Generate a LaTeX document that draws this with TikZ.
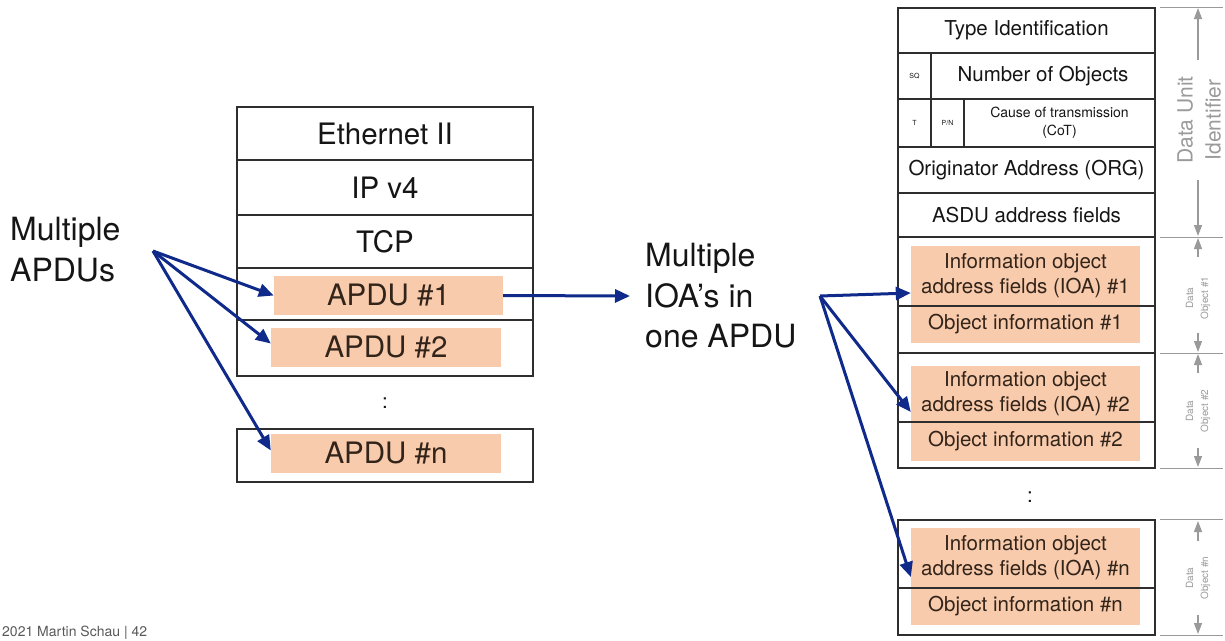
\documentclass[tikz,border=0pt]{standalone}
\usepackage{fontspec}
\setmainfont{TeX Gyre Heros}
\usetikzlibrary{arrows.meta}
\definecolor{apduorange}{HTML}{F8CBAD}
\definecolor{navyblue}{HTML}{0F2A8A}
\definecolor{txtcol}{HTML}{151515}
\definecolor{otxtcol}{HTML}{33241A}
\definecolor{annocol}{HTML}{9A9A9A}
\definecolor{cellline}{HTML}{2E2E2E}
\begin{document}
\begin{tikzpicture}[x=1pt,y=-1pt,
  cell/.style={draw=cellline, line width=1.5pt, inner sep=0pt, text=txtcol, align=center},
  orng/.style={fill=apduorange, draw=none, inner sep=0pt, text=otxtcol, align=center},
  bigtxt/.style={font=\fontsize{29.5}{34}\selectfont},
  labeltxt/.style={font=\fontsize{32}{40.5}\selectfont, text=txtcol, align=left, inner sep=0pt},
  medtxt/.style={font=\fontsize{20.5}{25}\selectfont},
  smalltxt/.style={font=\fontsize{14}{18}\selectfont},
  tinytxt/.style={font=\fontsize{7}{8}\selectfont},
  link/.style={draw=navyblue, line width=3pt, -{Triangle[length=15pt,width=13pt]}},
  annoline/.style={draw=annocol, line width=1.2pt},
  annarrow/.style={draw=annocol, line width=1.2pt, -{Triangle[length=11pt,width=8pt]}},
  annotxt/.style={text=annocol, align=center, inner sep=0pt, rotate=90}
]
\useasboundingbox (0,0) rectangle (1225,640);

% ---------- left stack ----------
\node[cell, bigtxt, minimum width=296pt, minimum height=53pt] (eth) at (385,133.5) {Ethernet II};
\node[cell, bigtxt, minimum width=296pt, minimum height=55pt] (ip) at (385,187.5) {IP v4};
\node[cell, bigtxt, minimum width=296pt, minimum height=53pt] (tcp) at (385,241.5) {TCP};
\node[cell, minimum width=296pt, minimum height=52pt] (row1) at (385,294) {};
\node[cell, minimum width=296pt, minimum height=56pt] (row2) at (385,348) {};
\node[text=txtcol, medtxt, inner sep=0pt] (ldots) at (385,403) {:};
\node[cell, minimum width=296pt, minimum height=53pt] (rown) at (385,455.5) {};
\node[orng, bigtxt, minimum width=229pt, minimum height=39pt] (apdu1) at (388.5,295.5) {APDU \#1};
\node[orng, bigtxt, minimum width=230pt, minimum height=39pt] (apdu2) at (386,347.5) {APDU \#2};
\node[orng, bigtxt, minimum width=230pt, minimum height=39pt] (apdun) at (386,453.5) {APDU \#n};

% ---------- labels ----------
\node[labeltxt, anchor=north west] (mapdu) at (10,217) {Multiple\\APDUs};
\node[labeltxt, anchor=north west] (mioa) at (645,243) {Multiple\\IOA’s in\\one APDU};

% ---------- right stack ----------
\node[cell, medtxt, minimum width=257pt, minimum height=45pt] (typeid) at (1026.5,30.5) {Type Identification};
\node[cell, tinytxt, minimum width=33pt, minimum height=46pt] (sq) at (914.5,76) {SQ};
\node[cell, medtxt, minimum width=224pt, minimum height=46pt] (numobj) at (1043,76) {Number of Objects};
\node[cell, tinytxt, minimum width=33pt, minimum height=48pt] (tbit) at (914.5,123) {T};
\node[cell, tinytxt, minimum width=33pt, minimum height=48pt] (pn) at (947.5,123) {P/N};
\node[cell, smalltxt, minimum width=191pt, minimum height=48pt] (cot) at (1059.5,123) {Cause of transmission\\(CoT)};
\node[cell, medtxt, minimum width=257pt, minimum height=46pt] (orig) at (1026.5,170) {Originator Address (ORG)};
\node[cell, medtxt, minimum width=257pt, minimum height=44pt] (asdu) at (1026.5,215) {ASDU address fields};

\node[orng, medtxt, minimum width=229pt, minimum height=60pt] (ioa1) at (1025.5,276) {Information object\\address fields (IOA) \#1};
\node[orng, medtxt, minimum width=229pt, minimum height=37pt] (obj1) at (1025.5,324.5) {Object information \#1};
\node[cell, minimum width=257pt, minimum height=69pt] (do1a) at (1026.5,271.5) {};
\node[cell, minimum width=257pt, minimum height=47pt] (do1b) at (1026.5,329.5) {};

\node[orng, medtxt, minimum width=229pt, minimum height=56pt] (ioa2) at (1025.5,394) {Information object\\address fields (IOA) \#2};
\node[orng, medtxt, minimum width=229pt, minimum height=39pt] (obj2) at (1025.5,441.5) {Object information \#2};
\node[cell, minimum width=257pt, minimum height=69pt] (do2a) at (1026.5,387.5) {};
\node[cell, minimum width=257pt, minimum height=46pt] (do2b) at (1026.5,445) {};

\node[text=txtcol, medtxt, inner sep=0pt] (rdots) at (1030,497) {:};

\node[orng, medtxt, minimum width=229pt, minimum height=60pt] (ioan) at (1025.5,558) {Information object\\address fields (IOA) \#n};
\node[orng, medtxt, minimum width=229pt, minimum height=37pt] (objn) at (1025.5,606.5) {Object information \#n};
\node[cell, minimum width=257pt, minimum height=68pt] (dona) at (1026.5,554) {};
\node[cell, minimum width=257pt, minimum height=47pt] (donb) at (1026.5,611.5) {};

% ---------- annotations ----------
\foreach \n/\a in {typeid/north, asdu/south, do1b/south, do2b/south, dona/north, donb/south}{
  \draw[annoline] ([xshift=4pt]\n.\a\space east) -- ++(63,0);
}
\node[annotxt, font=\fontsize{21}{28}\selectfont] (dui) at (1199,120) {Data Unit\\Identifier};
\coordinate (d0) at (1198,8);
\coordinate (d0a) at (1198,60);
\coordinate (d1) at (1198,236);
\coordinate (d1a) at (1198,180);
\draw[annarrow] (d0a) -- (d0);
\draw[annarrow] (d1a) -- (d1);

\node[annotxt, font=\fontsize{10}{15}\selectfont] (dob1) at (1198,298) {Data\\Object \#1};
\coordinate (e0) at (1198,238);
\coordinate (e0a) at (1198,257);
\coordinate (e1) at (1198,352);
\coordinate (e1a) at (1198,333);
\draw[annarrow] (e0a) -- (e0);
\draw[annarrow] (e1a) -- (e1);

\node[annotxt, font=\fontsize{10}{15}\selectfont] (dob2) at (1198,411) {Data\\Object \#2};
\coordinate (f0) at (1198,354);
\coordinate (f0a) at (1198,373);
\coordinate (f1) at (1198,467);
\coordinate (f1a) at (1198,448);
\draw[annarrow] (f0a) -- (f0);
\draw[annarrow] (f1a) -- (f1);

\node[annotxt, font=\fontsize{10}{15}\selectfont] (dobn) at (1198,578) {Data\\Object \#n};
\coordinate (g0) at (1198,521);
\coordinate (g0a) at (1198,541);
\coordinate (g1) at (1198,634);
\coordinate (g1a) at (1198,615);
\draw[annarrow] (g0a) -- (g0);
\draw[annarrow] (g1a) -- (g1);

% ---------- connectors ----------
\coordinate (srcA) at (153,251);
\draw[link] (srcA) -- (apdu1.west);
\draw[link] (srcA) -- ([yshift=4pt]apdu2.west);
\draw[link] (srcA) -- ([yshift=3pt]apdun.west);

\coordinate (mtip) at (630,296);
\draw[link] (apdu1.east) -- (mtip);

\coordinate (srcB) at (820,296);
\draw[link] (srcB) -- ([yshift=-17pt]ioa1.west);
\draw[link] (srcB) -- ([yshift=-18pt]ioa2.west);
\draw[link] (srcB) -- ([yshift=-19pt]ioan.west);

% ---------- footer ----------
\node[anchor=base west, font=\fontsize{14}{17}\selectfont, text=black!65, inner sep=0pt] (footer) at (2,636) {2021 Martin Schau | 42};
\end{tikzpicture}
\end{document}
